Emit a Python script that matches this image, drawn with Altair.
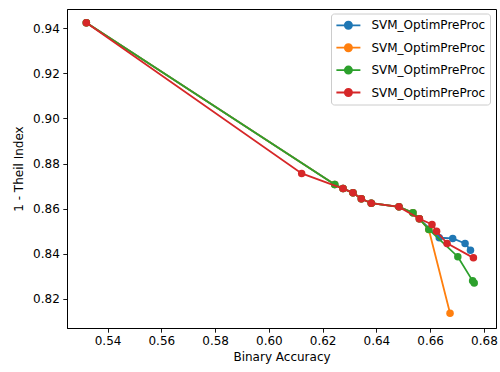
import altair as alt
import pandas as pd

# Pareto-front points for each run (accuracy vs. 1 - Theil index)
series_names = ["run1", "run2", "run3", "run4"]
label_text = "SVM_OptimPreProc"
colors = ["#1f77b4", "#ff7f0e", "#2ca02c", "#d62728"]

acc_1 = [0.5321, 0.6245, 0.6276, 0.6313, 0.6344, 0.6381, 0.6484, 0.6536, 0.6560,
         0.6634, 0.6684, 0.6730, 0.6750]
theil_1 = [0.9424, 0.8707, 0.8689, 0.8670, 0.8644, 0.8624, 0.8608, 0.8582, 0.8555,
           0.8471, 0.8468, 0.8446, 0.8416]

acc_2 = [0.5321, 0.6245, 0.6276, 0.6313, 0.6344, 0.6381, 0.6484, 0.6536, 0.6560,
         0.6595, 0.6674]
theil_2 = [0.9424, 0.8707, 0.8689, 0.8670, 0.8644, 0.8624, 0.8608, 0.8582, 0.8555,
           0.8508, 0.8136]

acc_3 = [0.5321, 0.6245, 0.6276, 0.6313, 0.6344, 0.6381, 0.6484, 0.6536, 0.6560,
         0.6595, 0.6703, 0.6758, 0.6764]
theil_3 = [0.9424, 0.8707, 0.8689, 0.8670, 0.8644, 0.8624, 0.8608, 0.8582, 0.8555,
           0.8508, 0.8387, 0.8280, 0.8270]

acc_4 = [0.5321, 0.6122, 0.6276, 0.6313, 0.6344, 0.6381, 0.6484, 0.6560, 0.6607,
         0.6624, 0.6663, 0.6761]
theil_4 = [0.9424, 0.8756, 0.8689, 0.8670, 0.8644, 0.8624, 0.8608, 0.8555, 0.8530,
           0.8500, 0.8446, 0.8382]

x_ticks = [0.54, 0.56, 0.58, 0.60, 0.62, 0.64, 0.66, 0.68]
y_ticks = [0.82, 0.84, 0.86, 0.88, 0.90, 0.92, 0.94]

frames = []
for name, xs, ys in zip(series_names,
                        [acc_1, acc_2, acc_3, acc_4],
                        [theil_1, theil_2, theil_3, theil_4]):
    frames.append(pd.DataFrame({"series": name, "acc": xs, "theil": ys}))
df = pd.concat(frames, ignore_index=True)

font = "DejaVu Sans"

# line segment with a dot in the middle, used as the legend handle
handle_path = ("M-2,0L2,0M-0.6,0A0.6,0.6,0,1,1,0.6,0"
               "A0.6,0.6,0,1,1,-0.6,0Z")

color = alt.Color(
    "series:N",
    scale=alt.Scale(domain=series_names, range=colors),
    legend=alt.Legend(
        title=None,
        orient="none",
        legendX=264,
        legendY=4.5,
        labelExpr=f"'{label_text}'",
        labelFont=font,
        labelFontSize=12,
        labelColor="black",
        labelOffset=16,
        symbolType=handle_path,
        symbolSize=144,
        symbolStrokeWidth=1.8,
        symbolOffset=5.6,
        rowPadding=6.4,
        padding=4.8,
        strokeColor="#cccccc",
        fillColor="white",
        cornerRadius=3,
    ),
)

x = alt.X("acc:Q", title="Binary Accuracy",
          scale=alt.Scale(domain=[0.5249, 0.6845], nice=False, zero=False),
          axis=alt.Axis(values=x_ticks, format=".2f"))
y = alt.Y("theil:Q", title="1 - Theil Index",
          scale=alt.Scale(domain=[0.8071, 0.9485], nice=False, zero=False),
          axis=alt.Axis(values=y_ticks, format=".2f"))

layers = []
for name in series_names:
    layers.append(
        alt.Chart(df)
        .transform_filter(alt.datum.series == name)
        .mark_line(strokeWidth=1.8,
                   point=alt.OverlayMarkDef(filled=True, size=56, opacity=1))
        .encode(x=x, y=y, color=color)
    )

chart = (
    alt.layer(*layers)
    .properties(
        width=429,
        height=319,
        autosize=alt.AutoSizeParams(type="none"),
        padding={"left": 67, "top": 9, "right": 4, "bottom": 44},
    )
    .configure_view(stroke="black", strokeWidth=1)
    .configure_axis(
        grid=False,
        domainColor="black",
        domainWidth=1,
        tickColor="black",
        tickSize=4.2,
        tickWidth=0.9,
        labelFont=font,
        labelFontSize=12,
        labelColor="black",
        labelPadding=3.5,
        titleFont=font,
        titleFontSize=12,
        titleFontWeight="normal",
        titleColor="black",
    )
    .configure_axisX(titlePadding=5)
    .configure_axisY(titlePadding=7)
)

chart.save("out.html", embed_options={"renderer": "svg", "actions": False})
